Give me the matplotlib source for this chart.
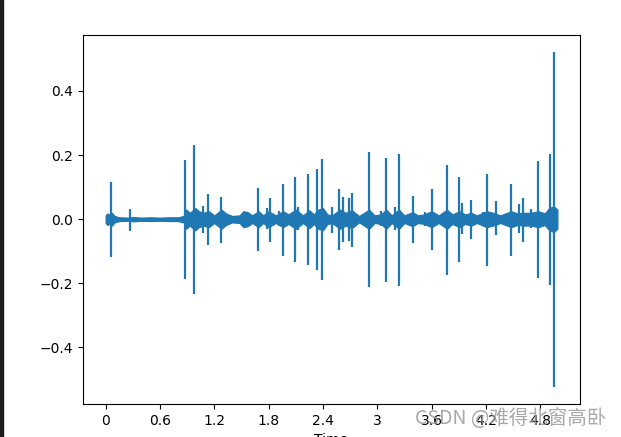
import matplotlib
matplotlib.use("Agg")
import matplotlib.pyplot as plt
from matplotlib.patches import Rectangle

# clicks / transients: time (s), positive peak, negative peak
spike_t = [0.055, 0.27, 0.88, 0.98, 1.075, 1.135, 1.27, 1.685, 1.78, 1.82, 1.92, 1.96,
           2.095, 2.125, 2.24, 2.34, 2.39, 2.495, 2.58, 2.62, 2.69, 2.72, 2.905, 3.04,
           3.10, 3.20, 3.24, 3.39, 3.525, 3.56, 3.61, 3.766, 3.906, 3.94, 4.035, 4.165,
           4.21, 4.31, 4.475, 4.57, 4.61, 4.70, 4.775, 4.905, 4.952]
spike_hi = [0.116, 0.031, 0.183, 0.230, 0.040, 0.078, 0.070, 0.097, 0.034, 0.066, 0.025, 0.110,
            0.130, 0.038, 0.140, 0.158, 0.189, 0.038, 0.095, 0.069, 0.066, 0.083, 0.209, 0.025,
            0.192, 0.038, 0.204, 0.071, 0.023, 0.020, 0.093, 0.170, 0.130, 0.049, 0.059, 0.023,
            0.142, 0.056, 0.110, 0.046, 0.066, 0.031, 0.181, 0.202, 0.522]
spike_lo = [-0.118, -0.036, -0.186, -0.233, -0.044, -0.081, -0.074, -0.100, -0.030, -0.070, -0.022, -0.115,
            -0.133, -0.035, -0.143, -0.160, -0.190, -0.043, -0.096, -0.070, -0.067, -0.086, -0.212, -0.022,
            -0.195, -0.034, -0.207, -0.074, -0.020, -0.018, -0.096, -0.174, -0.133, -0.045, -0.063, -0.020,
            -0.146, -0.050, -0.114, -0.042, -0.070, -0.028, -0.184, -0.205, -0.524]

# background envelope of the signal (half-amplitude)
env_t = [0.00, 0.02, 0.04, 0.07, 0.10, 0.15, 0.25, 0.30, 0.40, 0.50, 0.60, 0.70, 0.80, 0.86,
         0.89, 0.93, 0.99, 1.03, 1.08, 1.14, 1.20, 1.28, 1.33, 1.40, 1.48, 1.52, 1.57, 1.62,
         1.69, 1.74, 1.80, 1.88, 1.96, 2.02, 2.10, 2.18, 2.25, 2.30, 2.35, 2.40, 2.45, 2.50,
         2.59, 2.65, 2.72, 2.80, 2.91, 2.97, 3.04, 3.10, 3.16, 3.24, 3.30, 3.39, 3.45, 3.52,
         3.60, 3.68, 3.77, 3.83, 3.91, 3.97, 4.04, 4.10, 4.21, 4.28, 4.36, 4.48, 4.55, 4.62,
         4.70, 4.78, 4.85, 4.90, 4.95, 4.99]
env_a = [0.012, 0.018, 0.015, 0.020, 0.010, 0.006, 0.005, 0.007, 0.005, 0.006, 0.005, 0.006, 0.006, 0.010,
         0.030, 0.020, 0.035, 0.025, 0.020, 0.025, 0.012, 0.030, 0.018, 0.010, 0.012, 0.025, 0.022, 0.012,
         0.025, 0.012, 0.025, 0.012, 0.025, 0.015, 0.030, 0.012, 0.028, 0.015, 0.030, 0.035, 0.015, 0.012,
         0.030, 0.020, 0.028, 0.010, 0.030, 0.012, 0.015, 0.030, 0.012, 0.030, 0.012, 0.022, 0.012, 0.015,
         0.025, 0.012, 0.030, 0.015, 0.025, 0.015, 0.020, 0.012, 0.025, 0.020, 0.012, 0.025, 0.018, 0.020,
         0.020, 0.025, 0.018, 0.035, 0.040, 0.030]

xtick_vals = [0, 0.6, 1.2, 1.8, 2.4, 3.0, 3.6, 4.2, 4.8]
xtick_labels = ["0", "0.6", "1.2", "1.8", "2.4", "3", "3.6", "4.2", "4.8"]

col = "#1f77b4"
fig = plt.figure(figsize=(6.21, 4.37), dpi=100)
ax = fig.add_axes([83/621, 33/437, 497/621, 369/437])

ax.fill_between(env_t, [-a for a in env_a], env_a, color=col, linewidth=0.8)
ax.vlines(spike_t, spike_lo, spike_hi, color=col, linewidth=1.6)

ax.set_xticks(xtick_vals)
ax.set_xticklabels(xtick_labels)
ax.set_xlabel("Time")

# screenshot artefacts: dark strip on the left, blog watermark
fig.patches.append(Rectangle((0, 0), 3/621, 1, transform=fig.transFigure, color="#1c1c1c"))
fig.text(415/621, 418/437 * 0 + 19/437, "CSDN @难得北窗高卧", fontsize=14, color="#9a9a9a",
         alpha=0.85, va="center", ha="left", family=["Noto Sans CJK SC", "DejaVu Sans"])

fig.savefig("out.png", dpi=100)
